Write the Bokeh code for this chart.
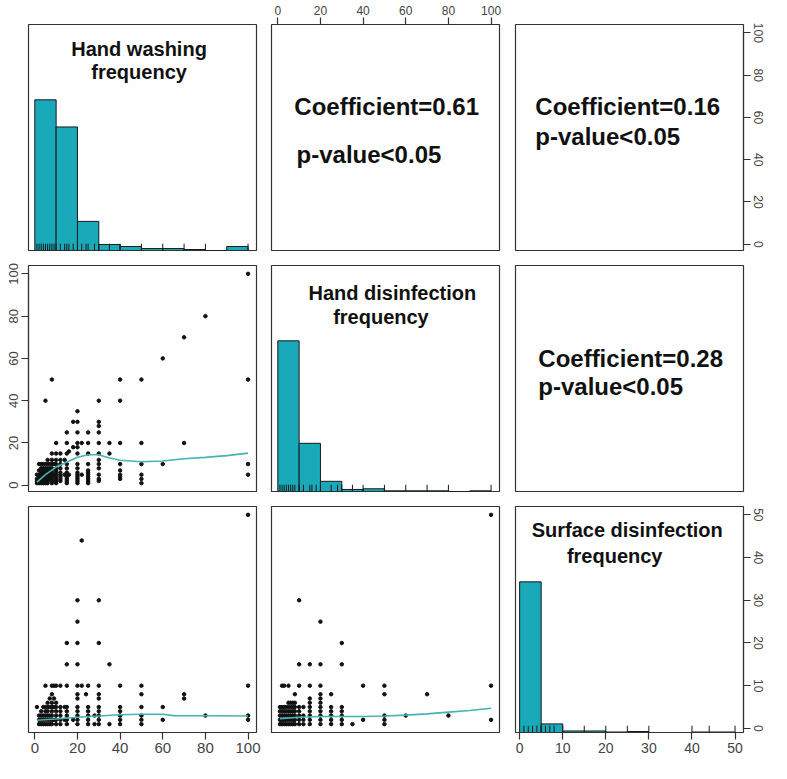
import math
from bokeh.plotting import figure
from bokeh.layouts import gridplot
from bokeh.models import Range1d, LinearAxis, FixedTicker, Label
from bokeh.embed import file_html
from bokeh.resources import INLINE

FONT = "Liberation Sans"
TEAL = "#19a9b9"
LOWESS = "#45b3b3"
INK = "#333333"
TICK_TEXT = "#444444"

# ---------------- data ----------------
var_titles = [["Hand washing", "frequency"],
              ["Hand disinfection", "frequency"],
              ["Surface disinfection", "frequency"]]

# axis limits of each variable (R pairs: data range + 4%)
wash_lim = (-2.96, 103.96)
disinf_lim = (-2.96, 103.96)
surf_lim = (-0.96, 51.96)

wash_ticks = [0, 20, 40, 60, 80, 100]
disinf_ticks = [0, 20, 40, 60, 80, 100]
surf_ticks = [0, 10, 20, 30, 40, 50]

# histograms on the diagonal
wash_breaks = [0, 10, 20, 30, 40, 50, 60, 70, 80, 90, 100]
wash_counts = [150, 123, 29, 6, 4, 2, 2, 1, 0, 4]
disinf_breaks = [0, 10, 20, 30, 40, 50, 60, 70, 80, 90, 100]
disinf_counts = [222, 71, 15, 3, 4, 1, 1, 1, 0, 1]
surf_breaks = [0, 5, 10, 15, 20, 25, 30, 35, 40, 45, 50]
surf_counts = [298, 17, 3, 3, 1, 2, 0, 0, 1, 1]

# rug marks under each histogram
wash_rug = [1, 2, 3, 4, 5, 6, 7, 8, 9, 10, 12, 14, 15, 16, 18, 20, 22, 24, 25, 28,
            30, 35, 40, 50, 60, 70, 80, 100]
disinf_rug = [1, 2, 3, 4, 5, 6, 7, 8, 10, 12, 15, 16, 18, 20, 25, 28, 30, 35, 40,
              50, 60, 70, 80, 100]
surf_rug = [1, 2, 3, 4, 5, 6, 7, 8, 10, 15, 20, 25, 30, 40, 44, 50]

# hand washing (x) vs hand disinfection (y): y levels and the x values at each
wd_levels = [100, 80, 70, 60, 50, 40, 35, 30, 28, 25, 20, 18, 16, 15, 12, 10, 8, 7, 6, 5, 4, 3, 2, 1]
wd_x_at_level = [
    [100],
    [80],
    [70],
    [60],
    [8, 40, 50, 100],
    [5, 30, 40],
    [20],
    [18, 20, 30],
    [30],
    [15, 20, 25, 30],
    [10, 15, 20, 22, 25, 30, 35, 40, 50, 70],
    [18, 20],
    [16],
    [8, 10, 12, 15, 20, 25, 30, 35],
    [6, 8, 10, 12, 14, 30],
    [2, 3, 4, 5, 6, 7, 8, 9, 10, 12, 15, 20, 25, 30, 40, 50, 60, 100],
    [3, 4, 5, 6, 7, 8, 10, 12, 15, 20, 30],
    [2, 4, 5, 6, 8, 10, 25, 40],
    [3, 4, 5, 6, 7, 8, 10, 12, 15, 20, 25],
    [1, 2, 3, 4, 5, 6, 7, 8, 9, 10, 12, 14, 15, 16, 20, 22, 25, 30, 40, 50, 100],
    [2, 3, 4, 5, 6, 7, 8, 10, 12, 15, 20, 25, 40],
    [1, 2, 3, 4, 5, 6, 7, 8, 10, 12, 15, 20, 25, 30, 40, 50],
    [1, 2, 3, 4, 5, 6, 8, 10, 12, 15, 20, 25, 30],
    [1, 2, 3, 4, 5, 6, 8, 10, 15, 20, 25, 50],
]
wd_lowess_x = [1, 5, 10, 15, 20, 25, 30, 35, 40, 50, 60, 70, 80, 90, 100]
wd_lowess_y = [1.5, 5.0, 8.6, 11.0, 13.2, 14.4, 14.4, 12.9, 11.8, 11.1, 11.5, 12.5, 13.2, 14.0, 15.2]

# hand washing (x) vs surface disinfection (y)
ws_levels = [50, 44, 30, 25, 20, 15, 10, 8, 7, 6, 5, 4, 3, 2, 1]
ws_x_at_level = [
    [100],
    [22],
    [20, 30],
    [20],
    [15, 20, 30],
    [15, 20, 35],
    [5, 8, 9, 10, 12, 15, 20, 22, 25, 30, 40, 50, 100],
    [8, 20, 24, 30, 50, 70],
    [7, 9, 20, 30, 70],
    [6, 8, 10],
    [1, 4, 5, 6, 7, 8, 9, 10, 12, 14, 15, 20, 25, 30, 40, 50, 60],
    [3, 5, 6, 8, 10, 12, 15, 20, 25, 30, 40],
    [2, 3, 4, 5, 6, 7, 8, 10, 12, 15, 20, 25, 28, 30, 40, 50, 80, 100],
    [2, 3, 4, 5, 6, 7, 8, 9, 10, 12, 14, 15, 18, 20, 25, 30, 40, 50, 60, 100],
    [2, 3, 4, 5, 6, 7, 8, 10, 12, 15, 20, 25, 28, 30, 35, 40, 50],
]
ws_lowess_x = [1, 10, 20, 30, 40, 50, 60, 65, 70, 80, 100]
ws_lowess_y = [1.9, 2.2, 2.6, 2.9, 3.2, 3.3, 3.3, 3.0, 2.95, 2.95, 2.9]

# hand disinfection (x) vs surface disinfection (y)
ds_levels = [50, 30, 25, 20, 15, 10, 8, 7, 6, 5, 4, 3, 2, 1]
ds_x_at_level = [
    [100],
    [10],
    [20],
    [30],
    [10, 15, 20, 30],
    [2, 3, 5, 10, 15, 20, 40, 50, 100],
    [8, 20, 25, 50, 70],
    [15, 20],
    [5, 6, 7, 8, 15, 20],
    [1, 2, 3, 4, 5, 6, 7, 8, 10, 12, 15, 20, 25, 30],
    [1, 2, 3, 4, 5, 6, 7, 8, 10, 15, 20, 25, 30],
    [1, 2, 3, 4, 5, 6, 7, 8, 10, 12, 15, 20, 25, 30, 50, 60, 80],
    [1, 2, 3, 4, 5, 6, 7, 8, 10, 12, 15, 20, 25, 30, 40, 50, 100],
    [1, 2, 3, 4, 5, 6, 7, 8, 10, 12, 15, 20, 25, 30, 35, 50],
]
ds_lowess_x = [1, 10, 20, 30, 40, 50, 60, 70, 80, 90, 100]
ds_lowess_y = [2.3, 2.6, 2.8, 2.8, 2.8, 2.9, 3.1, 3.4, 3.8, 4.2, 4.7]

# correlation text in the upper panels
coef_texts = {(0, 1): ["Coefficient=0.61", "p-value<0.05"],
              (0, 2): ["Coefficient=0.16", "p-value<0.05"],
              (1, 2): ["Coefficient=0.28", "p-value<0.05"]}

# ---------------- layout ----------------
lims = [wash_lim, disinf_lim, surf_lim]
hists = [(wash_breaks, wash_counts, wash_rug),
         (disinf_breaks, disinf_counts, disinf_rug),
         (surf_breaks, surf_counts, surf_rug)]
scatters = {(1, 0): (wd_levels, wd_x_at_level, wd_lowess_x, wd_lowess_y),
            (2, 0): (ws_levels, ws_x_at_level, ws_lowess_x, ws_lowess_y),
            (2, 1): (ds_levels, ds_x_at_level, ds_lowess_x, ds_lowess_y)}

FW, FH = 228, 226
col_left = [28, 7, 8]
col_right = [8, 8, 27]
row_top = [24, 8, 8]
row_bottom = [7, 7, 30]

# text placement as fractions of the panel (x from left, y from bottom)
coef_pos = {(0, 1): ([0.10, 0.11], [0.636, 0.425]),
            (0, 2): ([0.087, 0.087], [0.636, 0.504]),
            (1, 2): ([0.10, 0.10], [0.59, 0.463])}
title_pos = [([0.485, 0.485], [0.89, 0.79]),
             ([0.53, 0.48], [0.877, 0.77]),
             ([0.49, 0.435], [0.894, 0.78])]


def frac(lim, f):
    return lim[0] + f * (lim[1] - lim[0])


def add_axis(p, side, tick_list, size, range_name="default"):
    kw = {}
    if side in ("left", "right"):
        kw["y_range_name"] = range_name
    ax = LinearAxis(ticker=FixedTicker(ticks=tick_list), bounds=(tick_list[0], tick_list[-1]), **kw)
    ax.major_tick_out = 7
    ax.major_tick_in = 0
    ax.minor_tick_line_color = None
    ax.axis_line_color = INK
    ax.axis_line_width = 1.2
    ax.major_tick_line_color = INK
    ax.major_tick_line_width = 1.2
    ax.major_label_text_font = FONT
    ax.major_label_text_font_size = size
    ax.major_label_text_color = TICK_TEXT
    ax.major_label_standoff = 3
    if side in ("left", "right"):
        ax.major_label_orientation = "vertical"
    p.add_layout(ax, side)


panels = []
for i in range(3):
    row = []
    for j in range(3):
        y_lim = (0, 1.5) if i == j else lims[i]
        p = figure(frame_width=FW, frame_height=FH,
                   x_range=Range1d(*lims[j]), y_range=Range1d(*y_lim),
                   x_axis_type=None, y_axis_type=None,
                   toolbar_location=None, output_backend="svg",
                   min_border_left=col_left[j], min_border_right=col_right[j],
                   min_border_top=row_top[i], min_border_bottom=row_bottom[i])
        p.outline_line_color = INK
        p.outline_line_width = 1.2
        p.background_fill_color = "white"
        p.border_fill_color = "white"

        if i == j:
            breaks, counts, rug = hists[i]
            top = max(counts)
            p.quad(left=breaks[:-1], right=breaks[1:], bottom=0,
                   top=[c / top for c in counts],
                   fill_color=TEAL, line_color="#1a1a1a", line_width=1)
            p.segment(x0=rug, y0=0, x1=rug, y1=0.045, line_color="#1a1a1a", line_width=1)
            xf, yf = title_pos[i]
            for k, line in enumerate(var_titles[i]):
                p.add_layout(Label(x=frac(lims[j], xf[k]), y=frac(y_lim, yf[k]), text=line,
                                   text_font=FONT, text_font_style="bold", text_font_size="20px",
                                   text_color="#111111", text_align="center", text_baseline="middle"))
        elif i > j:
            levels, x_at, lx, ly = scatters[(i, j)]
            xs, ys = [], []
            for lev, xvals in zip(levels, x_at):
                xs.extend(xvals)
                ys.extend([lev] * len(xvals))
            p.scatter(xs, ys, size=3.5, color="#111111")
            p.line(lx, ly, line_color=LOWESS, line_width=1.6)
        else:
            xf, yf = coef_pos[(i, j)]
            for k, line in enumerate(coef_texts[(i, j)]):
                p.add_layout(Label(x=frac(lims[j], xf[k]), y=frac(y_lim, yf[k]), text=line,
                                   text_font=FONT, text_font_style="bold", text_font_size="24px",
                                   text_color="#111111", text_align="left", text_baseline="middle"))
        row.append(p)
    panels.append(row)

# outer axes as in R pairs()
add_axis(panels[0][1], "above", disinf_ticks, "12px")
add_axis(panels[0][2], "right", wash_ticks, "12px")
add_axis(panels[1][0], "left", disinf_ticks, "13px")
add_axis(panels[2][0], "below", wash_ticks, "15px")
p33 = panels[2][2]
p33.extra_y_ranges = {"surf": Range1d(*surf_lim)}
add_axis(p33, "right", surf_ticks, "12px", range_name="surf")
add_axis(p33, "below", surf_ticks, "14px")

grid = gridplot(panels, toolbar_location=None)

open("out.html", "w").write(file_html(grid, INLINE))
